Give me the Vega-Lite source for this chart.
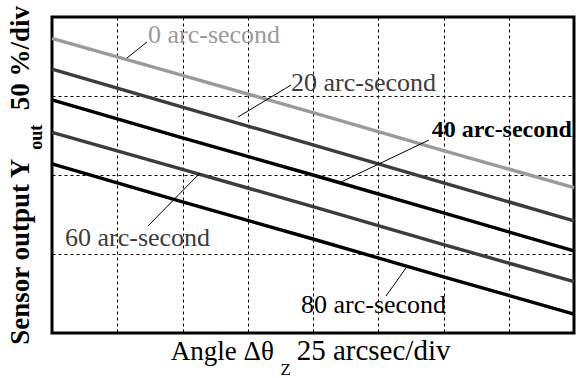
{
  "$schema": "https://vega.github.io/schema/vega-lite/v6.json",
  "autosize": {"type": "none"},
  "width": 522,
  "height": 316,
  "padding": {"left": 52, "top": 17, "right": 2, "bottom": 45},
  "background": "white",
  "config": {
    "view": {"stroke": "black", "strokeWidth": 3},
    "axis": {
      "grid": true, "gridColor": "black", "gridWidth": 1, "gridOpacity": 1, "gridDash": [3, 3],
      "labels": false, "ticks": false, "domain": false, "title": null
    }
  },
  "datasets": {
    "curves": [
      {"x": 0, "y": 3.73, "series": "0"}, {"x": 2, "y": 3.26, "series": "0"}, {"x": 4, "y": 2.79, "series": "0"}, {"x": 6, "y": 2.31, "series": "0"}, {"x": 8, "y": 1.84, "series": "0"},
      {"x": 0, "y": 3.34, "series": "20"}, {"x": 2, "y": 2.86, "series": "20"}, {"x": 4, "y": 2.38, "series": "20"}, {"x": 6, "y": 1.9, "series": "20"}, {"x": 8, "y": 1.42, "series": "20"},
      {"x": 0, "y": 2.95, "series": "40"}, {"x": 2, "y": 2.47, "series": "40"}, {"x": 4, "y": 2.0, "series": "40"}, {"x": 6, "y": 1.52, "series": "40"}, {"x": 8, "y": 1.04, "series": "40"},
      {"x": 0, "y": 2.54, "series": "60"}, {"x": 2, "y": 2.07, "series": "60"}, {"x": 4, "y": 1.6, "series": "60"}, {"x": 6, "y": 1.12, "series": "60"}, {"x": 8, "y": 0.65, "series": "60"},
      {"x": 0, "y": 2.14, "series": "80"}, {"x": 2, "y": 1.66, "series": "80"}, {"x": 4, "y": 1.19, "series": "80"}, {"x": 6, "y": 0.71, "series": "80"}, {"x": 8, "y": 0.24, "series": "80"}
    ],
    "leaders": [
      {"x": 1.456, "y": 3.684, "x2": 1.149, "y2": 3.481},
      {"x": 3.663, "y": 3.139, "x2": 2.851, "y2": 2.734},
      {"x": 5.778, "y": 2.443, "x2": 4.398, "y2": 1.899},
      {"x": 1.471, "y": 1.354, "x2": 2.268, "y2": 2.025},
      {"x": 5.119, "y": 0.468, "x2": 5.425, "y2": 0.823}
    ],
    "labels": [
      {"x": 1.471, "y": 3.67, "label": "0 arc-second", "series": "0"},
      {"x": 3.663, "y": 3.06, "label": "20 arc-second", "series": "20"},
      {"x": 0.199, "y": 1.1, "label": "60 arc-second", "series": "60"},
      {"x": 3.816, "y": 0.253, "label": "80 arc-second", "series": "80"}
    ],
    "boldlabels": [
      {"x": 5.82, "y": 2.48, "label": "40 arc-second", "series": "40"}
    ],
    "ytitle": [
      {"x": -0.35, "y": -0.15, "label": "Sensor output Y", "size": "big"},
      {"x": -0.153, "y": 2.32, "label": "out", "size": "small"},
      {"x": -0.35, "y": 2.82, "label": "50 %/div", "size": "big"}
    ],
    "xtitleA": [
      {"x": 3.4, "y": -0.342, "label": "Angle Δθ"}
    ],
    "xtitleZ": [
      {"x": 3.5, "y": -0.532, "label": "Z"}
    ],
    "xtitleB": [
      {"x": 3.75, "y": -0.342, "label": "25 arcsec/div"}
    ]
  },
  "layer": [
    {
      "data": {"name": "curves"},
      "mark": {"type": "line", "strokeWidth": 3.4},
      "encoding": {
        "x": {"field": "x", "type": "quantitative", "scale": {"domain": [0, 8], "nice": false, "zero": false}, "axis": {"values": [1, 2, 3, 4, 5, 6, 7]}},
        "y": {"field": "y", "type": "quantitative", "scale": {"domain": [0, 4], "nice": false, "zero": false}, "axis": {"values": [1, 2, 3]}},
        "color": {"field": "series", "type": "nominal", "scale": {"domain": ["0", "20", "40", "60", "80"], "range": ["#9a9a9a", "#3c3c3c", "#000000", "#3c3c3c", "#000000"]}, "legend": null}
      }
    },
    {
      "data": {"name": "leaders"},
      "mark": {"type": "rule", "color": "black", "strokeWidth": 1},
      "encoding": {
        "x": {"field": "x", "type": "quantitative"},
        "y": {"field": "y", "type": "quantitative"},
        "x2": {"field": "x2"},
        "y2": {"field": "y2"}
      }
    },
    {
      "data": {"name": "labels"},
      "mark": {"type": "text", "font": "Liberation Serif", "fontSize": 26, "align": "left", "baseline": "alphabetic"},
      "encoding": {
        "x": {"field": "x", "type": "quantitative"},
        "y": {"field": "y", "type": "quantitative"},
        "text": {"field": "label"},
        "color": {"field": "series", "type": "nominal", "scale": {"domain": ["0", "20", "40", "60", "80"], "range": ["#a0a0a0", "#000000", "#000000", "#000000", "#000000"]}, "legend": null}
      }
    },
    {
      "data": {"name": "boldlabels"},
      "mark": {"type": "text", "font": "Liberation Serif", "fontSize": 24, "fontWeight": "bold", "align": "left", "baseline": "alphabetic", "color": "black"},
      "encoding": {
        "x": {"field": "x", "type": "quantitative"},
        "y": {"field": "y", "type": "quantitative"},
        "text": {"field": "label"}
      }
    },
    {
      "data": {"name": "ytitle"},
      "mark": {"type": "text", "font": "Liberation Serif", "fontWeight": "bold", "align": "left", "baseline": "alphabetic", "angle": 270, "color": "black"},
      "encoding": {
        "x": {"field": "x", "type": "quantitative"},
        "y": {"field": "y", "type": "quantitative"},
        "text": {"field": "label"},
        "size": {"field": "size", "type": "nominal", "scale": {"domain": ["big", "small"], "range": [27, 18]}, "legend": null}
      }
    },
    {
      "data": {"name": "xtitleA"},
      "mark": {"type": "text", "font": "Liberation Serif", "fontSize": 27, "align": "right", "baseline": "alphabetic", "color": "black"},
      "encoding": {
        "x": {"field": "x", "type": "quantitative"},
        "y": {"field": "y", "type": "quantitative"},
        "text": {"field": "label"}
      }
    },
    {
      "data": {"name": "xtitleZ"},
      "mark": {"type": "text", "font": "Liberation Serif", "fontSize": 17, "align": "left", "baseline": "alphabetic", "color": "black"},
      "encoding": {
        "x": {"field": "x", "type": "quantitative"},
        "y": {"field": "y", "type": "quantitative"},
        "text": {"field": "label"}
      }
    },
    {
      "data": {"name": "xtitleB"},
      "mark": {"type": "text", "font": "Liberation Serif", "fontSize": 29, "align": "left", "baseline": "alphabetic", "color": "black"},
      "encoding": {
        "x": {"field": "x", "type": "quantitative"},
        "y": {"field": "y", "type": "quantitative"},
        "text": {"field": "label"}
      }
    }
  ]
}
